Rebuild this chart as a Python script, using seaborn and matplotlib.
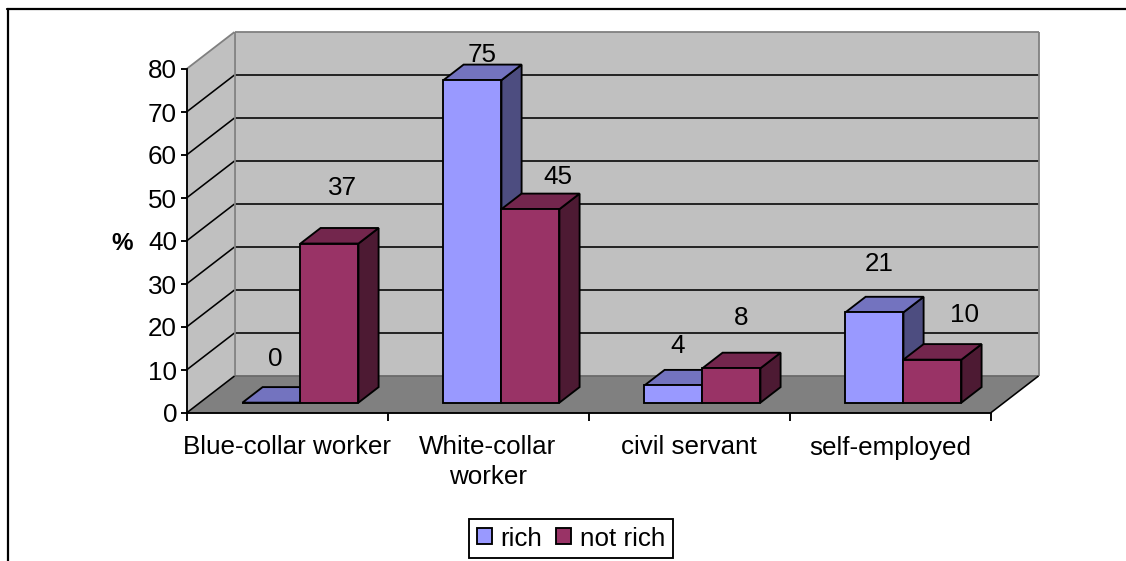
import matplotlib
matplotlib.use("Agg")
import matplotlib.pyplot as plt
from matplotlib.lines import Line2D
from matplotlib.colors import to_rgb
import pandas as pd
import seaborn as sns

categories = ["Blue-collar worker", "White-collar\nworker", "civil servant", "self-employed"]
rich = [0, 75, 4, 21]
not_rich = [37, 45, 8, 10]
y_ticks = [0, 10, 20, 30, 40, 50, 60, 70, 80]

# hand-placed value label nudges (px from top-face centre), as in the original
rich_nudge = [(-7, 36), (-1, 17), (-6, 31), (-6, 40)]
not_rich_nudge = [(2, 47), (17, 24), (-1, 42), (22, 37)]

sns.set_style("white")
plt.rcParams["font.family"] = ["Liberation Sans", "DejaVu Sans"]
plt.rcParams["text.color"] = "black"
FS = 18.7
LW = 1.35
GLW = 1.15

W, H = 1126, 561
fig = plt.figure(figsize=(W / 100, H / 100), dpi=100, facecolor="white")
ax = fig.add_axes([186.5 / W, 1 - 413 / H, 804 / W, 344 / H])

df = pd.DataFrame({
    "category": categories * 2,
    "value": rich + not_rich,
    "series": ["rich"] * 4 + ["not rich"] * 4,
})
colors = {"rich": "#9999FF", "not rich": "#993366"}
sns.barplot(data=df, x="category", y="value", hue="series", hue_order=["rich", "not rich"],
            palette=colors, width=0.577, saturation=1, edgecolor="black", linewidth=LW,
            errorbar=None, ax=ax)
extras = [p for p in ax.patches if p.get_width() == 0]
bars = sorted([p for p in ax.patches if p.get_width() > 0], key=lambda p: p.get_x())
ax.set_xlim(-0.5, 3.5)
ax.set_ylim(0, 80)

# oblique projection: depth 0 = front plane, depth 1 = back wall
DX = 48 / 201
DY = 37 / 4.3
def proj(x, y, d):
    return x + d * DX, y + d * DY

def face(pts, color, z, edge="none", lw=LW):
    xs, ys = zip(*pts)
    ax.fill(xs, ys, facecolor=color, edgecolor=edge, linewidth=lw, zorder=z,
            clip_on=False, joinstyle="miter")

x0, x1 = ax.get_xlim()
y0, y1 = ax.get_ylim()
GREY = "#808080"
face([proj(x0, y0, 1), proj(x1, y0, 1), proj(x1, y1, 1), proj(x0, y1, 1)], "#C0C0C0", 0.5)
face([proj(x0, y0, 0), proj(x0, y0, 1), proj(x0, y1, 1), proj(x0, y1, 0)], "#C0C0C0", 0.5)
face([proj(x0, y0, 0), proj(x1, y0, 0), proj(x1, y0, 1), proj(x0, y0, 1)], GREY, 0.6)

def seg(a, b, color="black", z=1, lw=GLW):
    ax.plot([a[0], b[0]], [a[1], b[1]], color=color, lw=lw, zorder=z, clip_on=False,
            solid_capstyle="butt")

for t in y_ticks[1:-1]:
    seg(proj(x0, t, 0), proj(x0, t, 1))
    seg(proj(x0, t, 1), proj(x1, t, 1))
seg(proj(x0, y1, 0), proj(x0, y1, 1), GREY, lw=1.3)
seg(proj(x0, y1, 1), proj(x1, y1, 1), GREY, lw=1.3)
seg(proj(x0, y0, 1), proj(x0, y1, 1), GREY, lw=1.3)
seg(proj(x1, y0, 1), proj(x1, y1, 1), GREY, lw=1.3)
seg(proj(x0, y0, 1), proj(x1, y0, 1), "#6a6a6a", z=1.5, lw=1.3)
seg(proj(x0, y0, 0), proj(x0, y0, 1), z=1.6)
seg(proj(x1, y0, 0), proj(x1, y0, 1), z=1.6)

# bars: shift the seaborn rectangles back into the floor and add their top / side faces
D_FRONT, D_BACK = 0.28, 0.70
for i, p in enumerate(bars):
    bx, bw, bh = p.get_x(), p.get_width(), p.get_height()
    z = 3 + i
    base = to_rgb(p.get_facecolor()[:3])
    top = tuple(c * 0.75 for c in base)
    side = tuple(c * 0.5 for c in base)
    p.set_x(bx + D_FRONT * DX)
    p.set_y(D_FRONT * DY)
    p.set_zorder(z + 0.2)
    p.set_clip_on(False)
    face([proj(bx + bw, 0, D_FRONT), proj(bx + bw, 0, D_BACK),
          proj(bx + bw, bh, D_BACK), proj(bx + bw, bh, D_FRONT)], side, z, "black")
    face([proj(bx, bh, D_FRONT), proj(bx + bw, bh, D_FRONT),
          proj(bx + bw, bh, D_BACK), proj(bx, bh, D_BACK)], top, z + 0.1, "black")

# value labels
mid = 0.5
for i in range(len(categories)):
    for j, (vals, nudge) in enumerate(((rich, rich_nudge), (not_rich, not_rich_nudge))):
        offset = (j - 0.5) * 0.577 / 2
        px, py = proj(i + offset, vals[i], mid)
        dx, dy = nudge[i]
        ax.annotate(str(vals[i]), (px, py), xytext=(dx * 0.72, dy * 0.72),
                    textcoords="offset points", ha="center", va="center", fontsize=FS,
                    color="black", zorder=30, annotation_clip=False)

# axes
sns.despine(ax=ax, top=True, right=True)
for s in ("left", "bottom"):
    ax.spines[s].set_linewidth(LW)
    ax.spines[s].set_color("black")
    ax.spines[s].set_zorder(2)
ax.set_yticks(y_ticks)
ax.set_xticks(range(len(categories)))
ax.set_xticklabels(categories, fontsize=FS, linespacing=1.3)
ax.set_xticks([x0 + k for k in range(5)], minor=True)
ax.tick_params(axis="x", which="major", length=0, pad=16.2, labelcolor="black")
ax.tick_params(axis="x", which="minor", length=6, width=LW, color="black", bottom=True)
ax.tick_params(axis="y", length=4.3, width=LW, color="black", left=True, labelsize=FS, pad=2.5,
               labelcolor="black")
ax.set_xlabel("")
ax.set_ylabel("%", fontsize=17.5, fontweight="bold", rotation=0, labelpad=0, color="black")
ax.yaxis.set_label_coords((122 - 186.5) / 804, (413 - 244) / 344)
ax.yaxis.label.set_verticalalignment("center")
ax.yaxis.label.set_horizontalalignment("center")

# legend
handles, labels = ax.get_legend_handles_labels()
leg = ax.legend(handles, labels, loc="center", bbox_to_anchor=(571 / W, 1 - 538.5 / H),
                bbox_transform=fig.transFigure, ncol=2, frameon=True, fancybox=False,
                framealpha=1, edgecolor="black", fontsize=FS, labelcolor="black",
                handlelength=0.58, handleheight=0.58, handletextpad=0.32, columnspacing=0.55,
                borderpad=0.3, borderaxespad=0)
leg.get_frame().set_linewidth(LW)
for p in extras:
    p.remove()

# outer chart frame (only top and left edges fall inside the crop)
fig.add_artist(Line2D([8 / W, 8 / W], [0, 1 - 9 / H], color="black", lw=1.6))
fig.add_artist(Line2D([7 / W, 1], [1 - 9 / H, 1 - 9 / H], color="black", lw=1.6))

fig.savefig("out.png", dpi=100, facecolor="white")
